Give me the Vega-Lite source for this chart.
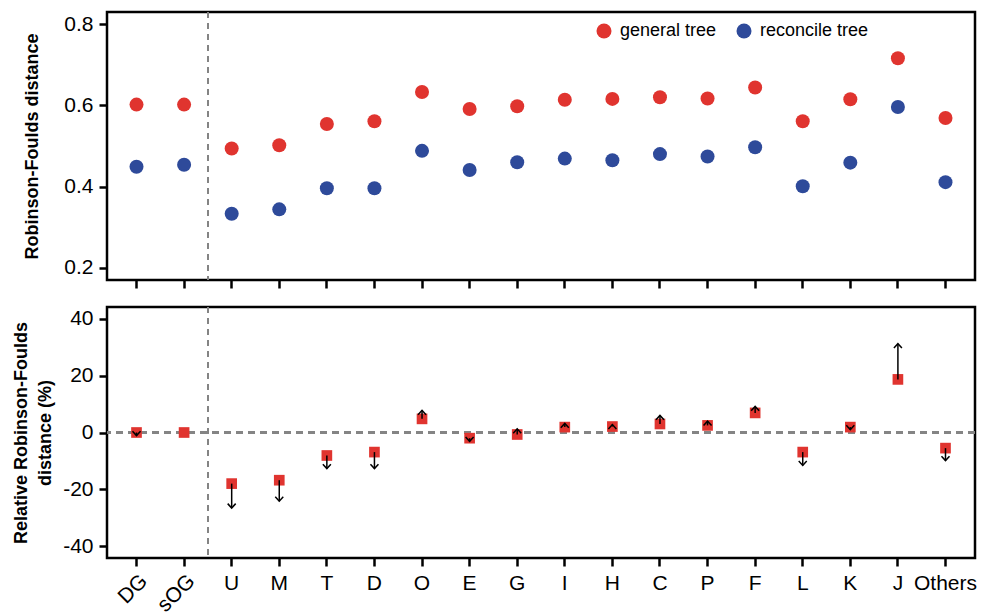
{
  "$schema": "https://vega.github.io/schema/vega-lite/v6.json",
  "background": "white",
  "padding": {"left": 11, "top": 10, "right": 0, "bottom": 0},
  "spacing": 14,
  "config": {
    "font": "Liberation Sans",
    "view": {"stroke": "black", "strokeWidth": 2.5},
    "axis": {
      "domain": false, "grid": false, "tickColor": "black", "tickWidth": 2.5, "tickSize": 8,
      "labelColor": "black", "labelFont": "Liberation Sans", "labelFontSize": 21, "labelPadding": 6,
      "titleFont": "Liberation Sans", "titleFontSize": 18, "titleFontWeight": "bold", "titleColor": "black"
    }
  },
  "datasets": {
    "rf": [
      {"group": "DG", "tree": "general tree", "rf": 0.602}, {"group": "DG", "tree": "reconcile tree", "rf": 0.449},
      {"group": "sOG", "tree": "general tree", "rf": 0.602}, {"group": "sOG", "tree": "reconcile tree", "rf": 0.454},
      {"group": "U", "tree": "general tree", "rf": 0.494}, {"group": "U", "tree": "reconcile tree", "rf": 0.333},
      {"group": "M", "tree": "general tree", "rf": 0.502}, {"group": "M", "tree": "reconcile tree", "rf": 0.344},
      {"group": "T", "tree": "general tree", "rf": 0.554}, {"group": "T", "tree": "reconcile tree", "rf": 0.396},
      {"group": "D", "tree": "general tree", "rf": 0.561}, {"group": "D", "tree": "reconcile tree", "rf": 0.396},
      {"group": "O", "tree": "general tree", "rf": 0.633}, {"group": "O", "tree": "reconcile tree", "rf": 0.488},
      {"group": "E", "tree": "general tree", "rf": 0.591}, {"group": "E", "tree": "reconcile tree", "rf": 0.441},
      {"group": "G", "tree": "general tree", "rf": 0.598}, {"group": "G", "tree": "reconcile tree", "rf": 0.460},
      {"group": "I", "tree": "general tree", "rf": 0.614}, {"group": "I", "tree": "reconcile tree", "rf": 0.469},
      {"group": "H", "tree": "general tree", "rf": 0.616}, {"group": "H", "tree": "reconcile tree", "rf": 0.465},
      {"group": "C", "tree": "general tree", "rf": 0.620}, {"group": "C", "tree": "reconcile tree", "rf": 0.480},
      {"group": "P", "tree": "general tree", "rf": 0.617}, {"group": "P", "tree": "reconcile tree", "rf": 0.474},
      {"group": "F", "tree": "general tree", "rf": 0.644}, {"group": "F", "tree": "reconcile tree", "rf": 0.497},
      {"group": "L", "tree": "general tree", "rf": 0.561}, {"group": "L", "tree": "reconcile tree", "rf": 0.401},
      {"group": "K", "tree": "general tree", "rf": 0.615}, {"group": "K", "tree": "reconcile tree", "rf": 0.459},
      {"group": "J", "tree": "general tree", "rf": 0.716}, {"group": "J", "tree": "reconcile tree", "rf": 0.596},
      {"group": "Others", "tree": "general tree", "rf": 0.569}, {"group": "Others", "tree": "reconcile tree", "rf": 0.411}
    ],
    "rel": [
      {"group": "DG", "general": 0, "reconcile": -1.1},
      {"group": "sOG", "general": 0, "reconcile": 0},
      {"group": "U", "general": -18.0, "reconcile": -26.6},
      {"group": "M", "general": -16.8, "reconcile": -24.2},
      {"group": "T", "general": -8.1, "reconcile": -12.7},
      {"group": "D", "general": -6.9, "reconcile": -12.7},
      {"group": "O", "general": 4.8, "reconcile": 7.8},
      {"group": "E", "general": -2.0, "reconcile": -3.1},
      {"group": "G", "general": -0.7, "reconcile": 1.3},
      {"group": "I", "general": 1.9, "reconcile": 3.2},
      {"group": "H", "general": 2.1, "reconcile": 2.8},
      {"group": "C", "general": 3.0, "reconcile": 6.0},
      {"group": "P", "general": 2.5, "reconcile": 4.0},
      {"group": "F", "general": 6.9, "reconcile": 9.2},
      {"group": "L", "general": -6.9, "reconcile": -11.6},
      {"group": "K", "general": 1.9, "reconcile": 1.0},
      {"group": "J", "general": 18.7, "reconcile": 31.3},
      {"group": "Others", "general": -5.5, "reconcile": -9.9}
    ]
  },
  "vconcat": [
    {
      "width": 868, "height": 268,
      "data": {"name": "rf"},
      "layer": [
        {
          "mark": {"type": "rule", "color": "#858585", "strokeDash": [6, 5], "strokeWidth": 1.5},
          "encoding": {
            "x": {"datum": "sOG", "type": "nominal", "bandPosition": 1,
              "scale": {"type": "band", "domain": ["DG","sOG","U","M","T","D","O","E","G","I","H","C","P","F","L","K","J","Others"], "paddingInner": 0, "paddingOuter": 0.12}}
          }
        },
        {
          "mark": {"type": "point", "shape": "circle", "filled": true, "opacity": 1, "size": 196},
          "encoding": {
            "x": {"field": "group", "type": "nominal", "sort": null,
              "scale": {"type": "band", "domain": ["DG","sOG","U","M","T","D","O","E","G","I","H","C","P","F","L","K","J","Others"], "paddingInner": 0, "paddingOuter": 0.12},
              "axis": {"title": null, "labels": false, "ticks": true}},
            "y": {"field": "rf", "type": "quantitative",
              "scale": {"domain": [0.17, 0.83], "nice": false, "zero": false},
              "axis": {"title": "Robinson-Foulds distance", "values": [0.2, 0.4, 0.6, 0.8], "format": ".1f", "titlePadding": 22}},
            "color": {"field": "tree", "type": "nominal",
              "scale": {"domain": ["general tree", "reconcile tree"], "range": ["#E0342F", "#2E4A9A"]},
              "legend": {"title": null, "orient": "none", "legendX": 488, "legendY": 10, "direction": "horizontal",
                "symbolType": "circle", "symbolSize": 225, "symbolStrokeWidth": 0, "symbolOpacity": 1,
                "labelFontSize": 18, "labelFont": "Liberation Sans", "labelColor": "black", "columnPadding": 18, "labelOffset": 7, "padding": 0}}
          }
        }
      ]
    },
    {
      "width": 868, "height": 251,
      "data": {"name": "rel"},
      "resolve": {"axis": {"x": "independent"}},
      "layer": [
        {
          "mark": {"type": "rule", "color": "#858585", "strokeDash": [7, 5], "strokeWidth": 1.5},
          "encoding": {
            "y": {"datum": 0, "type": "quantitative", "scale": {"domain": [-44.2, 44.2], "nice": false, "zero": false}}
          }
        },
        {
          "mark": {"type": "rule", "color": "#858585", "strokeDash": [6, 5], "strokeWidth": 1.5},
          "encoding": {
            "x": {"datum": "sOG", "type": "nominal", "bandPosition": 1, "axis": null,
              "scale": {"type": "band", "domain": ["DG","sOG","U","M","T","D","O","E","G","I","H","C","P","F","L","K","J","Others"], "paddingInner": 0, "paddingOuter": 0.12}}
          }
        },
        {
          "mark": {"type": "point", "shape": "square", "filled": true, "opacity": 1, "size": 114, "color": "#E0342F"},
          "encoding": {
            "x": {"field": "group", "type": "nominal", "sort": null,
              "scale": {"type": "band", "domain": ["DG","sOG","U","M","T","D","O","E","G","I","H","C","P","F","L","K","J","Others"], "paddingInner": 0, "paddingOuter": 0.12},
              "axis": {"title": null, "orient": "bottom", "labelAngle": 0, "labelAlign": "center", "labelBaseline": "top",
                "labelExpr": "datum.value === 'DG' || datum.value === 'sOG' ? '' : datum.label"}},
            "y": {"field": "general", "type": "quantitative",
              "scale": {"domain": [-44.2, 44.2], "nice": false, "zero": false},
              "axis": {"title": ["Relative Robinson-Foulds", "distance (%)"], "titleLineHeight": 24, "values": [-40, -20, 0, 20, 40], "labelExpr": "'' + datum.value", "titlePadding": 8}}
          }
        },
        {
          "transform": [{"filter": "datum.general != datum.reconcile"}],
          "mark": {"type": "rule", "color": "black", "strokeWidth": 1.5},
          "encoding": {
            "x": {"field": "group", "type": "nominal", "sort": null, "axis": null,
              "scale": {"type": "band", "domain": ["DG","sOG","U","M","T","D","O","E","G","I","H","C","P","F","L","K","J","Others"], "paddingInner": 0, "paddingOuter": 0.12}},
            "y": {"field": "general", "type": "quantitative",
              "scale": {"domain": [-44.2, 44.2], "nice": false, "zero": false},
              "axis": {"title": ["Relative Robinson-Foulds", "distance (%)"], "titleLineHeight": 24, "values": [-40, -20, 0, 20, 40], "labelExpr": "'' + datum.value", "titlePadding": 8}},
            "y2": {"field": "reconcile"}
          }
        },
        {
          "transform": [{"filter": "datum.general != datum.reconcile"}],
          "mark": {"type": "point", "filled": false, "stroke": "black", "strokeWidth": 1.5, "size": 64, "opacity": 1},
          "encoding": {
            "x": {"field": "group", "type": "nominal", "sort": null,
              "scale": {"type": "band", "domain": ["DG","sOG","U","M","T","D","O","E","G","I","H","C","P","F","L","K","J","Others"], "paddingInner": 0, "paddingOuter": 0.12},
              "axis": {"title": null, "orient": "bottom", "values": ["DG", "sOG"], "ticks": false, "labelPadding": 12,
                "labelAngle": -45, "labelAlign": "right", "labelBaseline": "top"}},
            "y": {"field": "reconcile", "type": "quantitative",
              "scale": {"domain": [-44.2, 44.2], "nice": false, "zero": false},
              "axis": {"title": ["Relative Robinson-Foulds", "distance (%)"], "titleLineHeight": 24, "values": [-40, -20, 0, 20, 40], "labelExpr": "'' + datum.value", "titlePadding": 8}},
            "shape": {"condition": {"test": "datum.reconcile > datum.general", "value": "M-1,1.1L0,0L1,1.1"}, "value": "M-1,-1.1L0,0L1,-1.1"}
          }
        }
      ]
    }
  ]
}
